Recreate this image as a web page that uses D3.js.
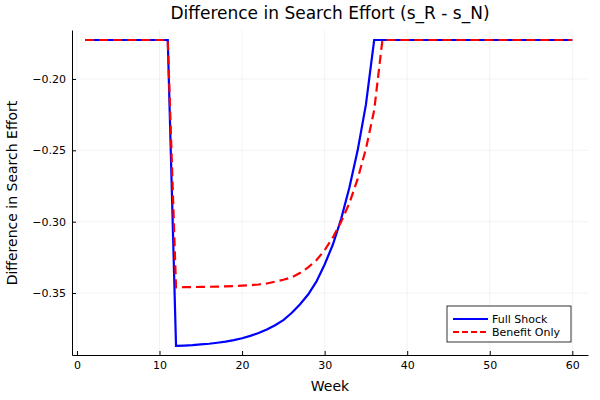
<!DOCTYPE html>
<html>
<head>
<meta charset="utf-8">
<script src="https://d3js.org/d3.v7.min.js"></script>
<style>
  body { margin: 0; background: #fff; }
  text { font-family: "DejaVu Sans", sans-serif; }
</style>
</head>
<body>
<div id="chart"></div>
<script>
// weeks 1..60
var weeks = d3.range(1, 61);
var flat = -0.1727;

var fullShock = [
  flat, flat, flat, flat, flat, flat, flat, flat, flat, flat, flat,
  -0.387, -0.3868, -0.3865, -0.386, -0.3855, -0.3848, -0.384, -0.383, -0.3817,
  -0.380, -0.378, -0.3755, -0.3725, -0.369, -0.364, -0.358, -0.351, -0.342,
  -0.330, -0.316, -0.298, -0.276, -0.250, -0.218, flat,
  flat, flat, flat, flat, flat, flat, flat, flat, flat, flat, flat, flat,
  flat, flat, flat, flat, flat, flat, flat, flat, flat, flat, flat, flat
];

var benefitOnly = [
  flat, flat, flat, flat, flat, flat, flat, flat, flat, flat, flat,
  -0.346, -0.3459, -0.3458, -0.3457, -0.3456, -0.3455, -0.3453, -0.3451, -0.3448,
  -0.3445, -0.344, -0.3433, -0.342, -0.3407, -0.339, -0.336, -0.332, -0.327,
  -0.320, -0.311, -0.300, -0.287, -0.270, -0.249, -0.222, flat,
  flat, flat, flat, flat, flat, flat, flat, flat, flat, flat, flat,
  flat, flat, flat, flat, flat, flat, flat, flat, flat, flat, flat, flat
];

var xTicks = [0, 10, 20, 30, 40, 50, 60];
var yTicks = [-0.20, -0.25, -0.30, -0.35];

var W = 600, H = 400;
var svg = d3.select("#chart").append("svg").attr("width", W).attr("height", H);

var x = d3.scaleLinear().domain([-0.6, 61.9]).range([72, 588]);
var y = d3.scaleLinear().domain([-0.3934, -0.1657]).range([355, 30]);

// grid
svg.selectAll(".gx").data(xTicks).enter().append("line")
  .attr("x1", d => x(d)).attr("x2", d => x(d)).attr("y1", 30).attr("y2", 355)
  .attr("stroke", "#000").attr("stroke-opacity", 0.1).attr("stroke-width", 0.5);
svg.selectAll(".gy").data(yTicks).enter().append("line")
  .attr("x1", 72).attr("x2", 588).attr("y1", d => y(d)).attr("y2", d => y(d))
  .attr("stroke", "#000").attr("stroke-opacity", 0.1).attr("stroke-width", 0.5);

// axes
var xAxis = svg.append("g").attr("transform", "translate(0,355)")
  .call(d3.axisBottom(x).tickValues(xTicks).tickSizeInner(-4).tickSizeOuter(0).tickPadding(6));
var yAxis = svg.append("g").attr("transform", "translate(72,0)")
  .call(d3.axisLeft(y).tickValues(yTicks).tickSizeInner(-4).tickSizeOuter(0).tickPadding(6)
    .tickFormat(d => "\u2212" + Math.abs(d).toFixed(2)));
[xAxis, yAxis].forEach(function (g) {
  g.selectAll("text").attr("font-size", 11).attr("fill", "#000").attr("font-family", "DejaVu Sans");
  g.select(".domain").attr("stroke", "#000");
});

// lines
var line = function (vals) {
  return d3.line().x((d, i) => x(weeks[i])).y(d => y(d))(vals);
};
svg.append("path").attr("d", line(fullShock)).attr("fill", "none")
  .attr("stroke", "#0000ff").attr("stroke-width", 2.2);
svg.append("path").attr("d", line(benefitOnly)).attr("fill", "none")
  .attr("stroke", "#ff0000").attr("stroke-width", 2.2).attr("stroke-dasharray", "9,5");

// title & labels
svg.append("text").attr("x", 330).attr("y", 19).attr("text-anchor", "middle")
  .attr("font-size", 17).text("Difference in Search Effort (s_R - s_N)");
svg.append("text").attr("x", 330).attr("y", 391).attr("text-anchor", "middle")
  .attr("font-size", 14).text("Week");
svg.append("text").attr("transform", "translate(17,193) rotate(-90)").attr("text-anchor", "middle")
  .attr("font-size", 14).text("Difference in Search Effort");

// legend
var lg = svg.append("g");
lg.append("rect").attr("x", 447).attr("y", 306).attr("width", 124).attr("height", 36)
  .attr("fill", "#fff").attr("stroke", "#000").attr("stroke-width", 0.8);
var items = [["Full Shock", "#0000ff", null], ["Benefit Only", "#ff0000", "6,3"]];
items.forEach(function (it, i) {
  var yy = 319 + i * 13;
  lg.append("line").attr("x1", 453).attr("x2", 488).attr("y1", yy).attr("y2", yy)
    .attr("stroke", it[1]).attr("stroke-width", 2).attr("stroke-dasharray", it[2]);
  lg.append("text").attr("x", 492).attr("y", yy + 4).attr("font-size", 11).text(it[0]);
});
</script>
</body>
</html>
